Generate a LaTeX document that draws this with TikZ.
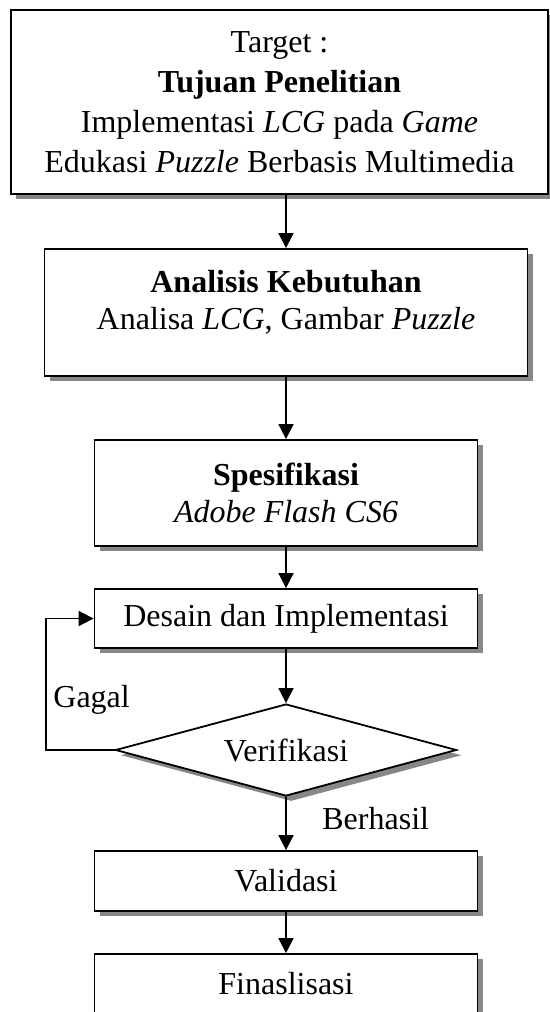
\documentclass[tikz,border=0pt]{standalone}
\usepackage{fontspec}
\setmainfont{Liberation Serif}
\usetikzlibrary{shapes.geometric,arrows.meta,shadows}

\begin{document}
\begin{tikzpicture}[x=0.5pt, y=-0.5pt,
    every node/.style={font=\fontsize{16pt}{18.5pt}\selectfont},
    box/.style={draw, line width=0.9pt, fill=white, align=center, inner sep=0pt,
        drop shadow={shadow xshift=2.6pt, shadow yshift=-2.6pt, fill=black!47, opacity=1}},
    decision/.style={diamond, draw, line width=0.9pt, fill=white, inner sep=0pt, shape aspect=3.7,
        drop shadow={shadow xshift=2.6pt, shadow yshift=-2.6pt, fill=black!47, opacity=1}},
    arrow/.style={line width=0.9pt, -{Triangle[length=7.5pt,width=7.5pt]}},
    lbl/.style={inner sep=0pt, anchor=base west}]
    \useasboundingbox (0,0) rectangle (550,1012);
    % boxes
    \node[box, minimum width=268.5pt, minimum height=92pt,
        font=\fontsize{16pt}{20pt}\selectfont] (target) at (279.5,102)
        {Target :\\ \textbf{Tujuan Penelitian}\\ Implementasi \textit{LCG} pada \textit{Game}\\
         Edukasi \textit{Puzzle} Berbasis Multimedia};
    \node[box, minimum width=241.5pt, minimum height=63.5pt] (analisis) at (286,312.5)
        {\textbf{Analisis Kebutuhan}\\ Analisa \textit{LCG}, Gambar \textit{Puzzle}\rule[-13pt]{0pt}{13pt}};
    \node[box, minimum width=191.5pt, minimum height=53pt] (spesifikasi) at (286,493)
        {\textbf{Spesifikasi}\\ \textit{Adobe Flash CS6}};
    \node[box, minimum width=191.5pt, minimum height=29.5pt] (desain) at (286,618.5)
        {Desain dan Implementasi};
    \node[decision, minimum width=170.5pt, minimum height=46pt] (verif) at (286,750)
        {Verifikasi};
    \node[box, minimum width=191.5pt, minimum height=30pt] (validasi) at (286,881)
        {Validasi};
    \node[box, minimum width=191.5pt, minimum height=30pt] (final) at (286,984)
        {Finaslisasi};
    \coordinate (loop) at (46,750);
    % connectors
    \draw[arrow] (target.south -| analisis.north) -- (analisis.north);
    \draw[arrow] (analisis) -- (spesifikasi);
    \draw[arrow] (spesifikasi) -- (desain);
    \draw[arrow] (desain) -- (verif);
    \draw[arrow] (verif) -- (validasi);
    \draw[arrow] (validasi) -- (final);
    \draw[arrow] (verif.west) -- (loop) |- (desain.west);
    \node[lbl] (gagal) at (53,707) {Gagal};
    \node[lbl] (berhasil) at (322,829) {Berhasil};
\end{tikzpicture}
\end{document}
